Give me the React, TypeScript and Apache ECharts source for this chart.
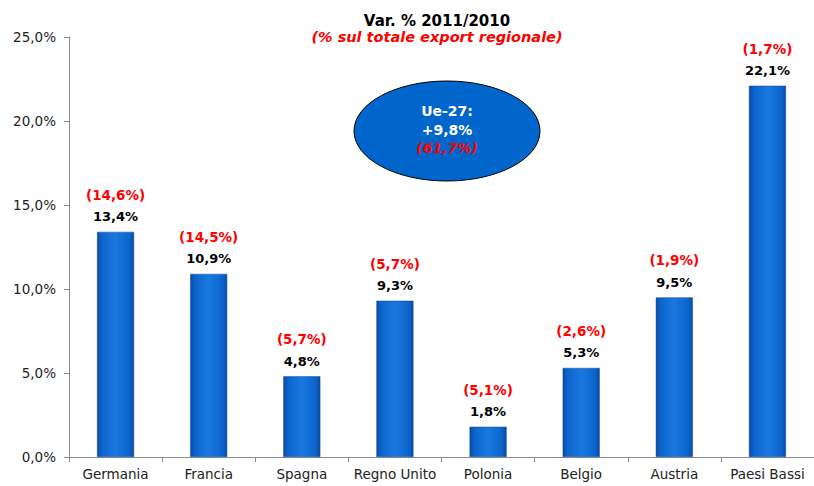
import React, { useEffect, useRef } from "react";
import * as echarts from "echarts";

const categories = ["Germania", "Francia", "Spagna", "Regno Unito", "Polonia", "Belgio", "Austria", "Paesi Bassi"];
const varValues = [13.4, 10.9, 4.8, 9.3, 1.8, 5.3, 9.5, 22.1];
const shareLabels = ["(14,6%)", "(14,5%)", "(5,7%)", "(5,7%)", "(5,1%)", "(2,6%)", "(1,9%)", "(1,7%)"];
const yTicks = [0, 5, 10, 15, 20, 25];

const FONT = "DejaVu Sans";

export default function App() {
  const ref = useRef<HTMLDivElement>(null);
  useEffect(() => {
    if (!ref.current) return;
    const chart = echarts.init(ref.current, null, { renderer: "svg" });
    const fmt = (v: number) => v.toFixed(1).replace(".", ",") + "%";
    chart.setOption({
      animation: false,
      backgroundColor: "#ffffff",
      textStyle: { fontFamily: FONT },
      title: {
        text: "Var. % 2011/2010",
        subtext: "(% sul totale export regionale)",
        left: 432,
        textAlign: "center",
        top: 8,
        itemGap: 1,
        textStyle: { fontFamily: FONT, fontSize: 15, fontWeight: "bold", color: "#000" },
        subtextStyle: { fontFamily: FONT, fontSize: 14.5, fontWeight: "bold", fontStyle: "italic", color: "#ff0000" },
      },
      grid: { left: 69, top: 37, width: 752, height: 420, containLabel: false },
      xAxis: {
        type: "category",
        data: categories,
        axisLine: { lineStyle: { color: "#8c8c8c", width: 1 } },
        axisTick: { show: true, alignWithLabel: false, length: 5, lineStyle: { color: "#8c8c8c" } },
        axisLabel: { color: "#222", fontFamily: FONT, fontSize: 13.5, margin: 10, interval: 0 },
      },
      yAxis: {
        type: "value",
        min: yTicks[0],
        max: yTicks[yTicks.length - 1],
        interval: 5,
        axisLine: { show: true, lineStyle: { color: "#8c8c8c", width: 1 } },
        axisTick: { show: true, length: 5, lineStyle: { color: "#8c8c8c" } },
        splitLine: { show: false },
        axisLabel: {
          color: "#222",
          fontFamily: FONT,
          fontSize: 13.5,
          margin: 13,
          formatter: (v: number) => fmt(v),
        },
      },
      series: [
        {
          type: "bar",
          data: varValues,
          barWidth: 37,
          itemStyle: {
            color: new echarts.graphic.LinearGradient(0, 0, 1, 0, [
              { offset: 0, color: "#0a4aa0" },
              { offset: 0.12, color: "#0b64cc" },
              { offset: 0.5, color: "#1a78de" },
              { offset: 0.88, color: "#0b64cc" },
              { offset: 1, color: "#0a4aa0" },
            ]),
            borderColor: "#0a4a9a",
            borderWidth: 0.5,
          },
          label: {
            show: true,
            position: "top",
            distance: 6,
            formatter: (p: any) => `{r|${shareLabels[p.dataIndex]}}\n{b|${fmt(p.value)}}`,
            rich: {
              r: { fontFamily: FONT, fontSize: 13.5, fontWeight: "bold", color: "#ff0000", lineHeight: 24, padding: [0, 0, 2, 0] },
              b: { fontFamily: FONT, fontSize: 13, fontWeight: "bold", color: "#000", lineHeight: 18 },
            },
          },
        },
      ],
      graphic: [
        {
          type: "ellipse",
          shape: { cx: 447, cy: 131, rx: 93, ry: 50 },
          style: { fill: "#0066cc", stroke: "#000", lineWidth: 1 },
          z: 10,
        },
        {
          type: "text",
          x: 447,
          y: 111,
          z: 11,
          style: { text: "Ue-27:", fill: "#fff", font: `bold 14px "${FONT}"`, textAlign: "center", textVerticalAlign: "middle" },
        },
        {
          type: "text",
          x: 447,
          y: 130,
          z: 11,
          style: { text: "+9,8%", fill: "#fff", font: `bold 14px "${FONT}"`, textAlign: "center", textVerticalAlign: "middle" },
        },
        {
          type: "text",
          x: 447,
          y: 148,
          z: 11,
          style: { text: "(61,7%)", fill: "#ff0000", font: `italic bold 14px "${FONT}"`, textAlign: "center", textVerticalAlign: "middle" },
        },
      ],
    });
    return () => chart.dispose();
  }, []);
  return <div ref={ref} style={{ width: 814, height: 486, position: "absolute", left: 0, top: 0 }} />;
}
